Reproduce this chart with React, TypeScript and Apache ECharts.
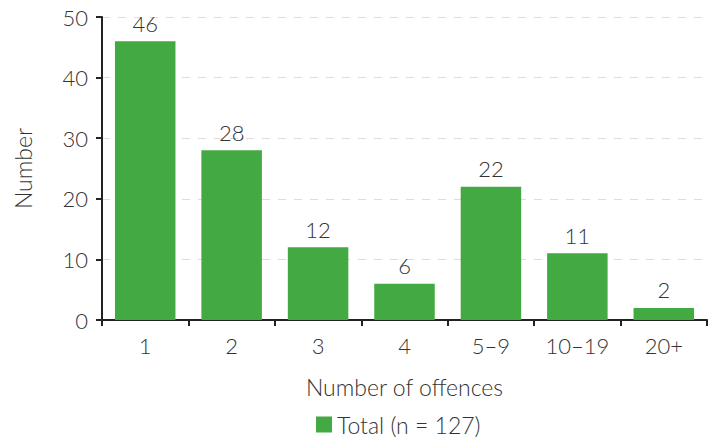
import React, { useEffect, useRef } from "react";
import * as echarts from "echarts";

const categories = ["1", "2", "3", "4", "5–9", "10–19", "20+"];
const totals = [46, 28, 12, 6, 22, 11, 2];
const yTicks = { min: 0, max: 50, interval: 10 };
const seriesName = "Total (n = 127)";

export default function App() {
  const ref = useRef<HTMLDivElement>(null);
  useEffect(() => {
    if (!ref.current) return;
    const chart = echarts.init(ref.current, null, { renderer: "svg" });
    const font = "Lato";
    const txt = "#333333";
    chart.setOption({
      animation: false,
      textStyle: { fontFamily: font, color: txt },
      grid: { left: 102, right: 9, top: 17, bottom: 121, containLabel: false },
      legend: {
        top: 408,
        left: 311,
        itemWidth: 16,
        itemHeight: 16,
        icon: "rect",
        itemGap: 5,
        textStyle: { fontSize: 23, fontFamily: font, color: txt, fontWeight: 300 },
        data: [seriesName],
      },
      xAxis: {
        type: "category",
        data: categories,
        name: "Number of offences",
        nameLocation: "middle",
        nameGap: 55,
        nameTextStyle: { fontSize: 23, color: txt, fontWeight: 300, fontFamily: font },
        axisLine: { lineStyle: { color: "#222", width: 2 } },
        axisTick: { show: true, length: 6, lineStyle: { color: "#222", width: 2 }, alignWithLabel: false },
        axisLabel: { fontSize: 22, color: txt, margin: 14, fontWeight: 300, fontFamily: font },
      },
      yAxis: {
        type: "value",
        min: yTicks.min,
        max: yTicks.max,
        interval: yTicks.interval,
        name: "Number",
        nameLocation: "middle",
        nameGap: 68,
        nameRotate: 90,
        nameTextStyle: { fontSize: 23, color: txt, fontWeight: 300, fontFamily: font },
        axisLine: { show: true, lineStyle: { color: "#222", width: 2 } },
        axisTick: { show: true, length: 6, lineStyle: { color: "#222", width: 2 } },
        axisLabel: { fontSize: 22, color: txt, margin: 14, fontWeight: 300, fontFamily: font },
        splitLine: { show: true, lineStyle: { color: "#dddddd", type: [8, 8], width: 1 } },
      },
      series: [
        {
          name: seriesName,
          type: "bar",
          data: totals,
          barWidth: "70%",
          itemStyle: { color: "#43a943" },
          label: { show: true, position: "top", fontSize: 22, color: txt, fontFamily: font, fontWeight: 300, distance: 7 },
        },
      ],
    });
    return () => chart.dispose();
  }, []);
  return <div ref={ref} style={{ width: 716, height: 441, position: "absolute", left: 0, top: 0 }} />;
}
